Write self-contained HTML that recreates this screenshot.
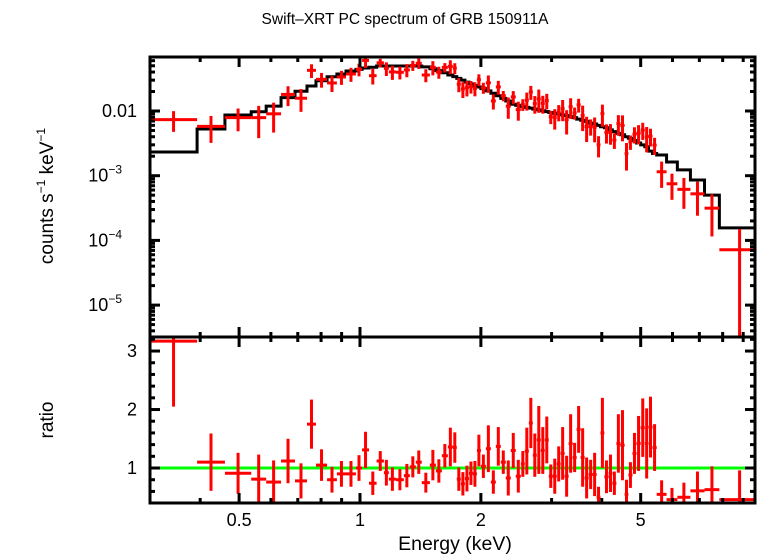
<!DOCTYPE html>
<html><head><meta charset="utf-8"><style>
html,body{margin:0;padding:0;background:#fff;}
svg{display:block;font-family:"Liberation Sans",sans-serif;}
</style></head><body>
<svg id="chart" width="758" height="556" viewBox="0 0 758 556">
<defs>
<clipPath id="clipTop"><rect x="150" y="57" width="605" height="280"/></clipPath>
<clipPath id="clipBot"><rect x="150" y="337" width="605" height="166"/></clipPath>
</defs>
<text x="405" y="24" text-anchor="middle" font-size="15.5">Swift–XRT PC spectrum of GRB 150911A</text>
<text transform="translate(53,196) rotate(-90)" text-anchor="middle" font-size="19">counts s<tspan font-size="12" dy="-8">−1</tspan><tspan dy="8"> keV</tspan><tspan font-size="12" dy="-8">−1</tspan></text>
<text transform="translate(53,420) rotate(-90)" text-anchor="middle" font-size="19">ratio</text>
<text x="455" y="550" text-anchor="middle" font-size="19.5">Energy (keV)</text>
<g id="marks"></g>
<g id="axes"></g>
</svg>
<script>
const eLo=[0.300,0.393,0.461,0.536,0.584,0.636,0.689,0.738,0.777,0.828,0.876,0.923,0.977,1.012,1.053,1.10,1.147,1.18,1.229,1.286,1.331,1.377,1.425,1.493,1.545,1.599,1.655,1.703,1.742,1.783,1.825,1.868,1.911,1.955,2.0,2.058,2.118,2.179,2.242,2.307,2.374,2.443,2.515,2.573,2.633,2.694,2.756,2.820,2.885,2.952,3.020,3.090,3.16,3.233,3.308,3.385,3.463,3.544,3.626,3.710,3.796,3.884,3.97,4.06,4.16,4.25,4.35,4.45,4.56,4.66,4.77,4.88,5.0,5.12,5.23,5.35,5.48,5.80,6.17,6.65,7.21,7.85];
const eHi=[0.393,0.461,0.536,0.584,0.636,0.689,0.738,0.777,0.828,0.876,0.923,0.977,1.012,1.053,1.10,1.147,1.18,1.229,1.286,1.331,1.377,1.425,1.493,1.545,1.599,1.655,1.703,1.742,1.783,1.825,1.868,1.911,1.955,2.0,2.058,2.118,2.179,2.242,2.307,2.374,2.443,2.515,2.573,2.633,2.694,2.756,2.820,2.885,2.952,3.020,3.090,3.16,3.233,3.308,3.385,3.463,3.544,3.626,3.710,3.796,3.884,3.97,4.06,4.16,4.25,4.35,4.45,4.56,4.66,4.77,4.88,5.0,5.12,5.23,5.35,5.48,5.80,6.17,6.65,7.21,7.85,9.9];
const model=[0.00232,0.00527,0.00867,0.00975,0.0119,0.0161,0.0202,0.0243,0.0294,0.0339,0.0373,0.0415,0.0440,0.0462,0.0475,0.0496,0.0496,0.0496,0.0496,0.0496,0.0496,0.0496,0.0480,0.0450,0.0420,0.0390,0.0360,0.0340,0.0320,0.0300,0.0280,0.0262,0.0248,0.0235,0.0222,0.0205,0.0188,0.0172,0.0157,0.0143,0.0127,0.0122,0.0118,0.0114,0.0111,0.0107,0.0104,0.0101,0.0098,0.0095,0.0092,0.0090,0.0087,0.0085,0.0082,0.0079,0.0075,0.0072,0.0069,0.0065,0.0063,0.0060,0.0057,0.0055,0.0051,0.0048,0.0045,0.0043,0.0040,0.0038,0.0035,0.0032,0.0030,0.0028,0.0024,0.0022,0.00209,0.00163,0.00123,0.00086,0.00050,0.000156];
const ratio=[3.17,1.10,0.91,0.81,0.76,1.12,0.78,1.75,1.05,0.80,0.90,0.90,1.00,1.31,0.74,1.12,0.92,0.81,0.80,0.87,1.02,1.10,0.75,1.05,0.95,1.21,1.36,1.35,0.81,0.73,0.82,0.91,0.90,1.30,1.03,1.33,0.76,1.37,1.10,0.83,1.30,0.86,1.07,1.29,1.77,1.22,1.48,1.30,1.48,0.86,0.86,1.07,1.25,0.86,1.42,1.18,1.66,1.18,0.83,0.89,0.89,0.50,1.60,0.85,0.91,0.74,1.42,1.39,0.55,0.88,1.25,1.42,1.69,1.42,1.70,1.35,0.55,0.46,0.50,0.61,0.63,0.46];
const ratioErr=[1.12,0.49,0.35,0.42,0.37,0.38,0.30,0.42,0.27,0.22,0.22,0.22,0.22,0.31,0.20,0.17,0.22,0.20,0.18,0.20,0.18,0.20,0.17,0.26,0.20,0.20,0.33,0.26,0.20,0.20,0.22,0.20,0.22,0.27,0.20,0.40,0.20,0.33,0.20,0.30,0.30,0.28,0.22,0.40,0.43,0.37,0.58,0.40,0.40,0.20,0.30,0.30,0.45,0.35,0.50,0.25,0.40,0.50,0.35,0.25,0.37,0.18,0.60,0.28,0.32,0.20,0.50,0.60,0.25,0.22,0.35,0.47,0.50,0.60,0.52,0.40,0.24,0.20,0.25,0.33,0.40,0.50];
const xMajor=[0.5,1,2,5];
const xMajorLabels=["0.5","1","2","5"];
const xMinor=[0.3,0.4,0.6,0.7,0.8,0.9,3,4,6,7,8,9];
const yTopMajor=[1e-5,1e-4,1e-3,1e-2];
const yTopLabels=[["10","−5"],["10","−4"],["10","−3"],["0.01",""]];
const yBotMajor=[1,2,3];
const yBotLabels=["1","2","3"];

const L=150,R=755,T1=57,B1=337,T2=337,B2=503;
const lxMin=Math.log10(0.300),lxMax=Math.log10(9.63);
const X=e=>L+(Math.log10(e)-lxMin)/(lxMax-lxMin)*(R-L);
const lyMax=-1.1654,lyMin=-5.493;
const Y1=v=>T1+(lyMax-Math.log10(Math.max(v,1e-9)))/(lyMax-lyMin)*(B1-T1);
const rMax=3.24,rMin=0.402;
const Y2=r=>T2+(rMax-r)/(rMax-rMin)*(B2-T2);

const NS="http://www.w3.org/2000/svg";
const marks=document.getElementById('marks'),axes=document.getElementById('axes');
function mk(tag,attrs,parent){const el=document.createElementNS(NS,tag);for(const k in attrs)el.setAttribute(k,attrs[k]);parent.appendChild(el);return el;}

const gTop=mk('g',{'clip-path':'url(#clipTop)'},marks);


const gBot=mk('g',{'clip-path':'url(#clipBot)'},marks);



let d='';
for(let i=0;i<model.length;i++){
  const y=Y1(model[i]);
  d+=(i===0?'M':'L')+X(eLo[i])+','+y+'L'+X(eHi[i])+','+y;
}
const mp=mk('path',{d:d,fill:'none',stroke:'#000','stroke-width':3},gTop);



const gl=mk('line',{x1:L,x2:R,y1:Y2(1),y2:Y2(1),stroke:'#00ff00','stroke-width':3},gBot);



for(let i=0;i<ratio.length;i++){
  const xl=X(eLo[i]),xh=X(eHi[i]),xc=X(Math.sqrt(eLo[i]*eHi[i]));
  const cnt=ratio[i]*model[i],err=ratioErr[i]*model[i];
  const g1=mk('g',{stroke:'#ff0000','stroke-width':3},gTop);
  
  
  mk('line',{x1:xl,x2:xh,y1:Y1(cnt),y2:Y1(cnt)},g1);
  mk('line',{x1:xc,x2:xc,y1:Y1(cnt+err),y2:Y1(cnt-err>0?cnt-err:1e-9)},g1);
  const g2=mk('g',{stroke:'#ff0000','stroke-width':3},gBot);
  
  
  mk('line',{x1:xl,x2:xh,y1:Y2(ratio[i]),y2:Y2(ratio[i])},g2);
  mk('line',{x1:xc,x2:xc,y1:Y2(ratio[i]+ratioErr[i]),y2:Y2(ratio[i]-ratioErr[i])},g2);
}

const f1=mk('rect',{x:L,y:T1,width:R-L,height:B1-T1,fill:'none',stroke:'#000','stroke-width':3},axes);


const f2=mk('rect',{x:L,y:T2,width:R-L,height:B2-T2,fill:'none',stroke:'#000','stroke-width':3},axes);



function tick(x1,y1,x2,y2){mk('line',{x1:x1,y1:y1,x2:x2,y2:y2,stroke:'#000','stroke-width':3},axes);}
[[T1,B1],[T2,B2]].forEach(([t,b])=>{
  xMajor.forEach(v=>{const x=X(v);tick(x,t,x,t+10);tick(x,b,x,b-10);});
  xMinor.forEach(v=>{const x=X(v);tick(x,t,x,t+5);tick(x,b,x,b-5);});
});
xMajor.forEach((v,i)=>{
  const t=mk('text',{x:X(v),y:526,'text-anchor':'middle','font-size':18},axes);
  t.textContent=xMajorLabels[i];
  
  
});
for(let dec=-6;dec<=-1;dec++){
  for(let m=1;m<10;m++){
    const v=m*Math.pow(10,dec);const y=Y1(v);
    if(y<T1||y>B1)continue;
    const len=m===1?10:5;
    tick(L,y,L+len,y);tick(R,y,R-len,y);
  }
}
yTopMajor.forEach((v,i)=>{
  const t=mk('text',{x:i===3?137:122,y:Y1(v)+6,'text-anchor':'end','font-size':18},axes);
  
  
  const lab=yTopLabels[i];
  t.textContent=lab[0];
  if(lab[1]){const s=mk('tspan',{'font-size':12,dy:-8},t);s.textContent=lab[1];}
});
for(let k=2;k<=16;k++){
  const r=k*0.2;const y=Y2(r);
  if(y<T2||y>B2)continue;
  const major=Math.abs(r-Math.round(r))<1e-6;
  const len=major?10:5;
  tick(L,y,L+len,y);tick(R,y,R-len,y);
}
yBotMajor.forEach((v,i)=>{
  const t=mk('text',{x:137,y:Y2(v)+6,'text-anchor':'end','font-size':18},axes);
  t.textContent=yBotLabels[i];
  
  
});
</script>
</body></html>
